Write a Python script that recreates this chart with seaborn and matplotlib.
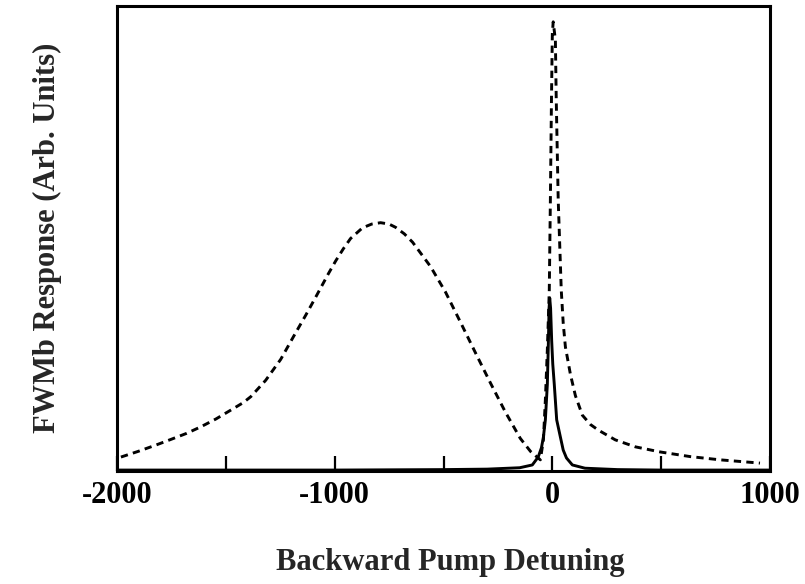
import numpy as np
import pandas as pd
import matplotlib
matplotlib.use("Agg")
import matplotlib.pyplot as plt
import seaborn as sns

# Dashed curve (detuning, response)
dashed_x = [-1982, -1904, -1820, -1752, -1680, -1615, -1545, -1477, -1420, -1385,
            -1317, -1248, -1188, -1133, -1087, -1028, -995, -960, -927, -872,
            -830, -789, -750, -720, -680, -642, -560, -491,
            -422, -353, -284, -216, -147, -100, -55, -41, -32, -23, -14,
            -9, -4, 0, 4, 14, 18, 27, 41, 50, 60,
            83, 106, 138, 175, 211, 289, 381, 495, 633, 771, 954]
dashed_y = [0.030, 0.042, 0.056, 0.068, 0.081, 0.095, 0.112, 0.131, 0.147, 0.160,
            0.195, 0.240, 0.290, 0.335, 0.374, 0.425, 0.452, 0.478, 0.500, 0.523,
            0.531, 0.534, 0.531, 0.524, 0.510, 0.492, 0.440, 0.385,
            0.320, 0.254, 0.189, 0.127, 0.070, 0.042, 0.024, 0.067, 0.153, 0.260, 0.389,
            0.583, 0.798, 0.940, 0.966, 0.927, 0.798, 0.583, 0.389, 0.318, 0.267,
            0.208, 0.162, 0.120, 0.100, 0.088, 0.067, 0.052, 0.041, 0.031, 0.024, 0.017]

# Solid curve
solid_x = [-2000, -1000, -500, -300, -150, -92, -65, -50, -41, -32,
           -23, -18, -15, -12, -8, -3, 2, 9, 20, 37,
           50, 65, 92, 150, 300, 500, 1000]
solid_y = [0.002, 0.002, 0.003, 0.004, 0.007, 0.013, 0.030, 0.050, 0.073, 0.110,
           0.186, 0.280, 0.350, 0.372, 0.350, 0.280, 0.230, 0.186, 0.110, 0.073,
           0.045, 0.028, 0.013, 0.006, 0.003, 0.002, 0.002]

tick_vals = [-2000, -1500, -1000, -500, 0, 500, 1000]
tick_labels = ["-2000", "", "-1000", "", "0", "", "1000"]

sns.set_style("white")
plt.rcParams['font.family'] = ['Liberation Serif', 'DejaVu Serif']
plt.rcParams['font.weight'] = 'bold'

fig = plt.figure(figsize=(8.05, 5.84), dpi=100)
ax = fig.add_axes([117/805, 113/584, 653/805, 465/584])

df_d = pd.DataFrame({"x": dashed_x, "y": dashed_y})
df_s = pd.DataFrame({"x": solid_x, "y": solid_y})
sns.lineplot(data=df_d, x="x", y="y", ax=ax, color="black", lw=2.1,
             linestyle=(0, (2.5, 1.8)), sort=False, estimator=None)
sns.lineplot(data=df_s, x="x", y="y", ax=ax, color="black", lw=2.1,
             sort=False, estimator=None)

ax.set_xlim(-2000, 1000)
ax.set_ylim(0, 1.0)
ax.set_yticks([])
ax.set_xticks(tick_vals)
ax.set_xticklabels(tick_labels, fontsize=22, fontweight='bold')
ax.tick_params(axis='x', bottom=True, direction='in', length=11, width=1.6,
               pad=7, colors='black')
for s in ax.spines.values():
    s.set_color('black')
    s.set_linewidth(2.2)

ax.set_xlabel("Backward Pump Detuning", fontsize=22, fontweight='bold')
ax.xaxis.set_label_coords(0.51, -0.196)
ax.xaxis.label.set_va('center')
ax.set_ylabel("FWMb Response (Arb. Units)", fontsize=22, fontweight='bold')
ax.yaxis.set_label_coords(-0.107, 0.501)
ax.yaxis.label.set_va('center')

fig.savefig("out.png", dpi=100, facecolor="white")
